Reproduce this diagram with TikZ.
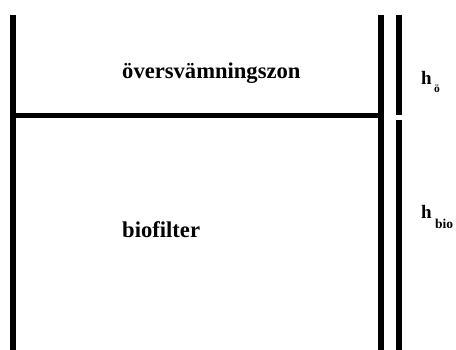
\documentclass[tikz,border=0pt]{standalone}
\usepackage{fontspec}
\setmainfont{Liberation Serif}
\begin{document}
\begin{tikzpicture}[x=1pt,y=-1pt,
  wall/.style={line width=5.5pt},
  lbl/.style={inner sep=0pt,anchor=base west,font=\bfseries\fontsize{22.6}{24}\selectfont},
  hlbl/.style={inner sep=0pt,anchor=base west,font=\bfseries\fontsize{19}{21}\selectfont},
  sublbl/.style={inner sep=0pt,anchor=base west,font=\bfseries\fontsize{13.5}{15}\selectfont}]
\useasboundingbox (0,0) rectangle (456,350);
\coordinate (lt) at (13,15);
\coordinate (lb) at (13,350);
\coordinate (rt) at (381,15);
\coordinate (rb) at (381,350);
\coordinate (ml) at (13,115.5);
\coordinate (mr) at (381,115.5);
\coordinate (d1t) at (399,15);
\coordinate (d1b) at (399,115);
\coordinate (d2t) at (399,120);
\coordinate (d2b) at (399,350);
\draw[wall] (lt) -- (lb);
\draw[wall] (rt) -- (rb);
\draw[wall] (ml) -- (mr);
\draw[wall] (d1t) -- (d1b);
\draw[wall] (d2t) -- (d2b);
\node[lbl] (zon) at (122,79) {översvämningszon};
\node[lbl] (bio) at (122,238) {biofilter};
\node[hlbl] (h1) at (421,85) {h};
\node[sublbl,font=\bfseries\fontsize{11.5}{13}\selectfont] (s1) at (434,93) {ö};
\node[hlbl] (h2) at (421,219) {h};
\node[sublbl] (s2) at (435,229) {bio};
\end{tikzpicture}
\end{document}
